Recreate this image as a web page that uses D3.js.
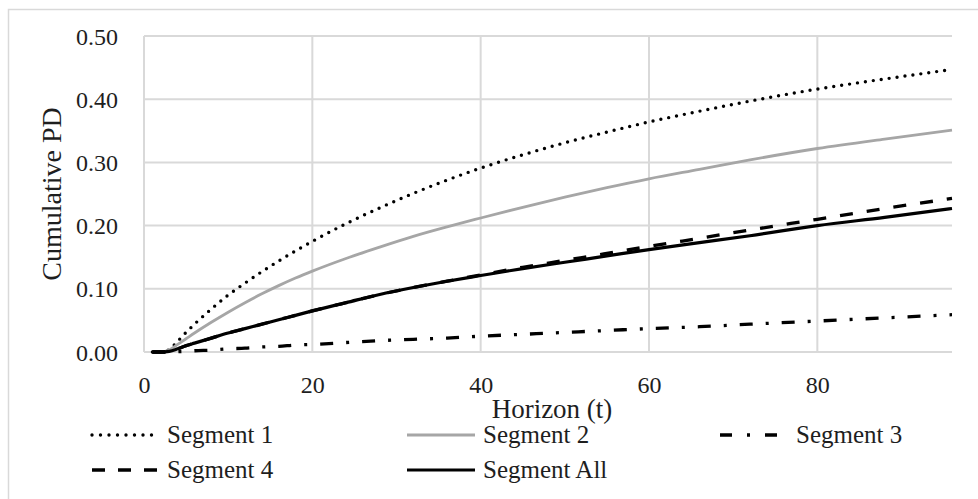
<!DOCTYPE html>
<html>
<head>
<meta charset="utf-8">
<script src="https://cdn.jsdelivr.net/npm/d3@7"></script>
<style>
  html, body { margin: 0; padding: 0; background: #fff; }
  svg { display: block; }
</style>
</head>
<body>
<div id="chart"></div>
<script>
const horizon = [1, 2, 3, 4, 5, 6, 8, 10, 12, 14, 16, 18, 20, 24, 28, 32, 36, 40, 45, 50, 55, 60, 66, 72, 80, 88, 96];

// cumulative PD per segment
const seg1   = [0, 0, 0.004, 0.017, 0.031, 0.044, 0.068, 0.090, 0.109, 0.127, 0.144, 0.160, 0.175, 0.203, 0.228, 0.251, 0.272, 0.291, 0.312, 0.331, 0.348, 0.364, 0.381, 0.397, 0.416, 0.432, 0.447];
const seg2   = [0, 0, 0.003, 0.012, 0.021, 0.030, 0.047, 0.063, 0.078, 0.092, 0.105, 0.117, 0.128, 0.148, 0.166, 0.183, 0.198, 0.212, 0.229, 0.245, 0.260, 0.274, 0.289, 0.304, 0.322, 0.337, 0.351];
const seg3   = [0, 0, 0, 0.0005, 0.001, 0.002, 0.003, 0.005, 0.006, 0.008, 0.009, 0.011, 0.012, 0.015, 0.018, 0.020, 0.022, 0.025, 0.028, 0.031, 0.034, 0.037, 0.040, 0.044, 0.049, 0.054, 0.059];
const seg4   = [0, 0, 0.001, 0.005, 0.010, 0.014, 0.022, 0.030, 0.037, 0.044, 0.051, 0.058, 0.065, 0.078, 0.091, 0.102, 0.112, 0.122, 0.134, 0.145, 0.156, 0.167, 0.180, 0.193, 0.210, 0.227, 0.243];
const segAll = [0, 0, 0.001, 0.005, 0.010, 0.014, 0.022, 0.030, 0.037, 0.044, 0.051, 0.058, 0.065, 0.078, 0.091, 0.102, 0.112, 0.121, 0.132, 0.142, 0.152, 0.162, 0.173, 0.184, 0.200, 0.213, 0.227];

const xTicks = [0, 20, 40, 60, 80];
const yTicks = [0, 0.1, 0.2, 0.3, 0.4, 0.5];

const series = [
    { name: "Segment 1",   values: seg1,   color: "#000", width: 3.4, dash: "0,8",         cap: "round" },
    { name: "Segment 2",   values: seg2,   color: "#a6a6a6", width: 2.8, dash: null,       cap: "butt" },
    { name: "Segment 3",   values: seg3,   color: "#000", width: 3.3, dash: "13,13,3,13",  cap: "butt" },
    { name: "Segment 4",   values: seg4,   color: "#000", width: 3.3, dash: "13,14",       cap: "butt" },
    { name: "Segment All", values: segAll, color: "#000", width: 3.2, dash: null,          cap: "butt" }
];

const width = 978, height = 499;
const font = "'Liberation Serif', 'Times New Roman', serif";
const ink = "#1e1e1e";

const svg = d3.select("#chart").append("svg")
    .attr("width", width)
    .attr("height", height)
    .attr("viewBox", [0, 0, width, height]);

// outer frame
svg.append("rect")
    .attr("x", 8.5).attr("y", 9.5)
    .attr("width", 980).attr("height", 500)
    .attr("fill", "none")
    .attr("stroke", "#d9d9d9")
    .attr("stroke-width", 1.5);

const x = d3.scaleLinear().domain([0, 96]).range([144, 952]);
const y = d3.scaleLinear().domain([0, 0.5]).range([352, 36]);

// grid
const grid = svg.append("g").attr("stroke", "#d9d9d9").attr("stroke-width", 2);
grid.selectAll("line.h")
    .data(yTicks)
    .join("line")
    .attr("class", "h")
    .attr("x1", x(0)).attr("x2", x(96))
    .attr("y1", d => y(d)).attr("y2", d => y(d));
grid.selectAll("line.v")
    .data(xTicks)
    .join("line")
    .attr("class", "v")
    .attr("x1", d => x(d)).attr("x2", d => x(d))
    .attr("y1", y(0)).attr("y2", y(0.5));

// tick labels via d3 axes, lines hidden
const yAxis = svg.append("g")
    .attr("transform", `translate(${x(0) - 26},0)`)
    .call(d3.axisLeft(y).tickValues(yTicks).tickFormat(d3.format(".2f")).tickSize(0));
const xAxis = svg.append("g")
    .attr("transform", `translate(0,${y(0) + 24})`)
    .call(d3.axisBottom(x).tickValues(xTicks).tickFormat(d3.format("d")).tickSize(0));
[xAxis, yAxis].forEach(a => {
    a.select(".domain").remove();
    a.selectAll("text")
        .attr("font-family", font)
        .attr("font-size", 24)
        .attr("fill", ink);
});
yAxis.selectAll("text").attr("dy", "0.34em").attr("x", 0);
xAxis.selectAll("text").attr("dy", "0.71em").attr("y", 0);

// axis titles
svg.append("text")
    .attr("transform", `translate(52,${(y(0) + y(0.5)) / 2}) rotate(-90)`)
    .attr("text-anchor", "middle")
    .attr("dy", "0.32em")
    .attr("font-family", font)
    .attr("font-size", 28)
    .attr("fill", ink)
    .text("Cumulative PD");

svg.append("text")
    .attr("x", 552)
    .attr("y", 418)
    .attr("text-anchor", "middle")
    .attr("font-family", font)
    .attr("font-size", 27)
    .attr("fill", ink)
    .text("Horizon (t)");

// lines
const line = d3.line()
    .x((d, i) => x(horizon[i]))
    .y(d => y(d))
    .curve(d3.curveMonotoneX);

svg.append("g")
    .selectAll("path")
    .data(series)
    .join("path")
    .attr("fill", "none")
    .attr("stroke", d => d.color)
    .attr("stroke-width", d => d.width)
    .attr("stroke-dasharray", d => d.dash)
    .attr("stroke-linecap", d => d.cap)
    .attr("stroke-linejoin", "round")
    .attr("d", d => line(d.values));

// legend
const legendPos = [
    { x1: 92,  x2: 157, tx: 167, y: 435 },
    { x1: 407, x2: 475, tx: 483, y: 435 },
    { x1: 720, x2: 777, tx: 796, y: 435 },
    { x1: 92,  x2: 157, tx: 167, y: 470 },
    { x1: 407, x2: 475, tx: 483, y: 470 }
];
const legendDash = ["0,8.5", null, "12,15,3,15", "13,13", null];

const lg = svg.append("g")
    .selectAll("g")
    .data(series)
    .join("g");
lg.append("line")
    .attr("x1", (d, i) => legendPos[i].x1)
    .attr("x2", (d, i) => legendPos[i].x2)
    .attr("y1", (d, i) => legendPos[i].y)
    .attr("y2", (d, i) => legendPos[i].y)
    .attr("stroke", d => d.color)
    .attr("stroke-width", d => d.width)
    .attr("stroke-dasharray", (d, i) => legendDash[i])
    .attr("stroke-linecap", d => d.cap);
lg.append("text")
    .attr("x", (d, i) => legendPos[i].tx)
    .attr("y", (d, i) => legendPos[i].y)
    .attr("dy", "0.3em")
    .attr("font-family", font)
    .attr("font-size", 25)
    .attr("fill", ink)
    .text(d => d.name);
</script>
</body>
</html>
